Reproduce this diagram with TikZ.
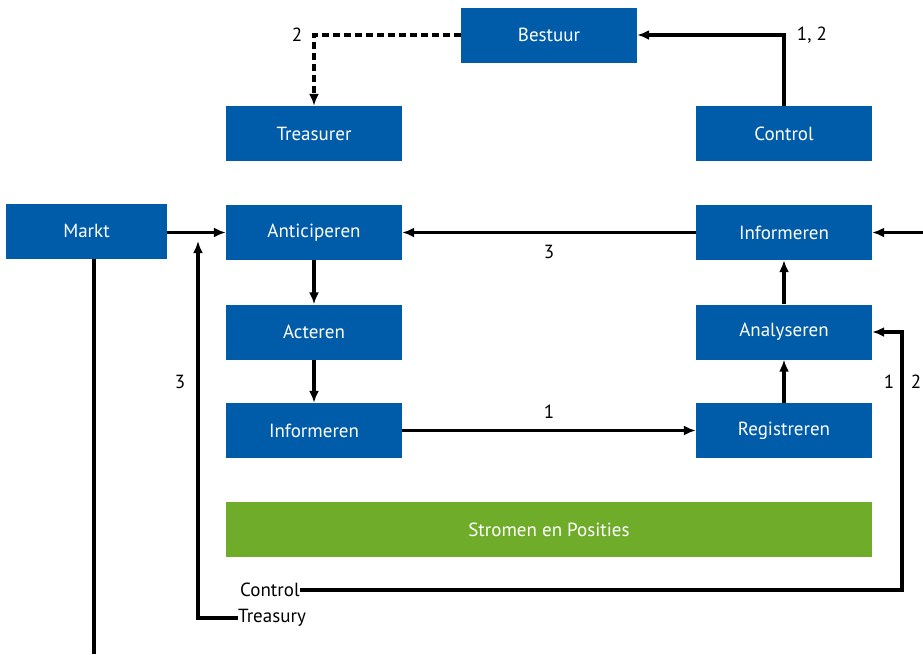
\documentclass[tikz,border=0pt]{standalone}
\usepackage{fontspec}
\setmainfont{PT Sans}
\usetikzlibrary{arrows.meta}
\definecolor{boxblue}{HTML}{005CA9}
\definecolor{bargreen}{HTML}{6FAC2A}
\begin{document}
\begin{tikzpicture}[x=1pt,y=-1pt,
  box/.style={fill=boxblue,text=white,minimum width=176pt,minimum height=55pt,inner sep=0pt,font=\fontsize{19}{21}\selectfont},
  lbl/.style={font=\fontsize{19}{21}\selectfont,inner sep=0pt},
  conn/.style={line width=3.2pt},
  arr/.style={conn,-{Latex[length=12pt,width=10pt]}}]
\useasboundingbox (0,0) rectangle (923,654);
% blue process boxes
\node[box] (bestuur) at (549,35) {Bestuur};
\node[box] (treasurer) at (314,133.5) {Treasurer};
\node[box] (control) at (784,133.5) {Control};
\node[box,minimum width=161pt,minimum height=55pt] (markt) at (86.5,231) {Markt};
\node[box] (antic) at (314,232.5) {Anticiperen};
\node[box] (infoR) at (784,232.5) {Informeren};
\node[box] (acteren) at (314,332) {Acteren};
\node[box] (analyse) at (784,332) {Analyseren};
\node[box] (infoL) at (314,430.5) {Informeren};
\node[box] (regis) at (784,430.5) {Registreren};
\node[box,fill=bargreen,minimum width=646pt] (stromen) at (549,529.5) {Stromen en Posities};
% side labels
\node[lbl,anchor=west] (lcontrol) at (240,590) {Control};
\node[lbl,anchor=west] (ltreasury) at (238,618) {Treasury};
\coordinate (rightin) at (923,232.5);
\coordinate (marktend) at (94,654);
\coordinate (ctlcorner) at (902,590);
\coordinate (treastip) at (198,241);
% connectors
\draw[arr] (markt.east |- antic.west) -- (antic.west);
\draw[arr] (infoR.west) -- node[lbl,below=11pt] {3} (antic.east);
\draw[arr] (rightin) -- (infoR.east);
\draw[arr] (antic.south) -- (acteren.north);
\draw[arr] (acteren.south) -- (infoL.north);
\draw[arr] (infoL.east) -- node[lbl,above=10pt] {1} (regis.west);
\draw[arr] (regis.north) -- (analyse.south);
\draw[arr] (analyse.north) -- (infoR.south);
\draw[arr] (control.north) |- (bestuur.east);
\node[lbl] at (812,35) {1, 2};
\draw[arr,dash pattern=on 7pt off 4pt] (bestuur.west) -| (treasurer.north);
\node[lbl] at (297,35) {2};
\draw[conn] (markt.south -| marktend) -- (marktend);
\draw[arr] (ltreasury.west) -| (treastip);
\node[lbl] at (180,382) {3};
\draw[arr] (lcontrol.east) -| (ctlcorner |- analyse.east) -- (analyse.east);
\node[lbl] at (889,382) {1};
\node[lbl] at (916,382) {2};
\end{tikzpicture}
\end{document}
